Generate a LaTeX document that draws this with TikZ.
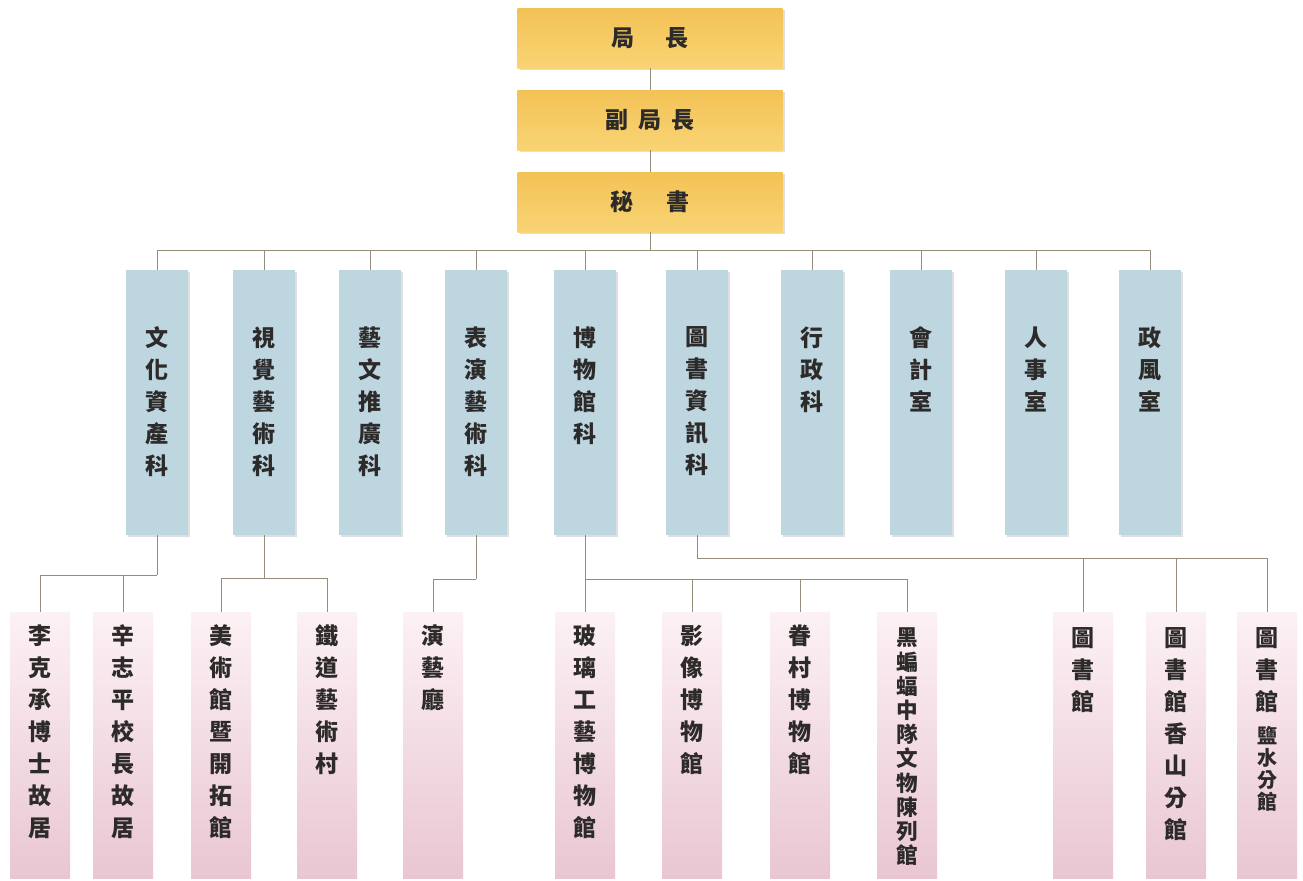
\documentclass[tikz,border=0pt]{standalone}
\usepackage{fontspec}
\newfontfamily\cjk{Noto Sans CJK TC}
\usetikzlibrary{shadows}

\definecolor{chiefgold}{RGB}{243,194,86}
\definecolor{chieflight}{RGB}{249,212,116}
\definecolor{sectblue}{RGB}{189,214,223}
\definecolor{unitpink}{RGB}{233,198,210}
\definecolor{unitpale}{RGB}{252,241,244}
\definecolor{linkgray}{RGB}{150,140,122}
\definecolor{inkgray}{RGB}{45,42,42}

\begin{document}
\begin{tikzpicture}[x=0.5pt,y=-0.5pt]

	\tikzset{chief/.style={
				minimum width=132.5pt, minimum height=30pt, inner sep=0pt,
				top color=chiefgold, bottom color=chieflight,
				drop shadow={shadow xshift=1pt, shadow yshift=-1pt, opacity=0.25},
				font=\cjk\bfseries\fontsize{11.5}{14}\selectfont, text=inkgray}
	}
	\tikzset{sect/.style={
				minimum width=31pt, minimum height=132.5pt, inner sep=0pt,
				fill=sectblue,
				drop shadow={shadow xshift=1.2pt, shadow yshift=-1.2pt, opacity=0.25}}
	}
	\tikzset{unit/.style={
				minimum width=30pt, minimum height=133pt, inner sep=0pt,
				top color=unitpale, bottom color=unitpink}
	}
	\tikzset{vtext/.style={
				anchor=north, align=center, inner sep=0pt,
				font=\cjk\bfseries\fontsize{11.5}{16}\selectfont, text=inkgray}
	}
	\tikzset{link/.style={draw=linkgray, line width=0.5pt}}

	\useasboundingbox (0,0) rectangle (1303,880);

	% top of the bureau
	\node[chief] (head) at (650,38) {局\hspace{1.35em}長};
	\node[chief] (deputy) at (650,120) {副\hspace{0.45em}局\hspace{0.45em}長};
	\node[chief] (secr) at (650,202) {秘\hspace{1.45em}書};

	\draw[link] (head) -- (deputy);
	\draw[link] (deputy) -- (secr);

	% sections
	\node[sect] (s1) at (157,402.5) {};
	\node[vtext] (t1) at ([yshift=-28.5pt]s1.north) {文\\化\\資\\產\\科};

	\node[sect] (s2) at (264,402.5) {};
	\node[vtext] (t2) at ([yshift=-28.5pt]s2.north) {視\\覺\\藝\\術\\科};

	\node[sect] (s3) at (370,402.5) {};
	\node[vtext] (t3) at ([yshift=-28.5pt]s3.north) {藝\\文\\推\\廣\\科};

	\node[sect] (s4) at (476,402.5) {};
	\node[vtext] (t4) at ([yshift=-28.5pt]s4.north) {表\\演\\藝\\術\\科};

	\node[sect] (s5) at (585,402.5) {};
	\node[vtext] (t5) at ([yshift=-28.5pt]s5.north) {博\\物\\館\\科};

	\node[sect] (s6) at (697,402.5) {};
	\node[vtext] (t6) at ([yshift=-28.5pt]s6.north) {圖\\書\\資\\訊\\科};

	\node[sect] (s7) at (812,402.5) {};
	\node[vtext] (t7) at ([yshift=-28.5pt]s7.north) {行\\政\\科};

	\node[sect] (s8) at (921,402.5) {};
	\node[vtext] (t8) at ([yshift=-28.5pt]s8.north) {會\\計\\室};

	\node[sect] (s9) at (1036,402.5) {};
	\node[vtext] (t9) at ([yshift=-28.5pt]s9.north) {人\\事\\室};

	\node[sect] (s10) at (1150,402.5) {};
	\node[vtext] (t10) at ([yshift=-28.5pt]s10.north) {政\\風\\室};

	\coordinate (secbus) at (650,250);
	\draw[link] (secr) -- (secbus);
	\draw[link] (secbus) -| (s1.north);
	\draw[link] (secbus) -| (s2.north);
	\draw[link] (secbus) -| (s3.north);
	\draw[link] (secbus) -| (s4.north);
	\draw[link] (secbus) -| (s5.north);
	\draw[link] (secbus) -| (s6.north);
	\draw[link] (secbus) -| (s7.north);
	\draw[link] (secbus) -| (s8.north);
	\draw[link] (secbus) -| (s9.north);
	\draw[link] (secbus) -| (s10.north);

	% units below the sections
	\node[unit] (u1) at (40,745) {};
	\node[vtext] (v1) at ([yshift=-6.5pt]u1.north) {李\\克\\承\\博\\士\\故\\居};

	\node[unit] (u2) at (123,745) {};
	\node[vtext] (v2) at ([yshift=-6.5pt]u2.north) {辛\\志\\平\\校\\長\\故\\居};

	\node[unit] (u3) at (221,745) {};
	\node[vtext] (v3) at ([yshift=-6.5pt]u3.north) {美\\術\\館\\暨\\開\\拓\\館};

	\node[unit] (u4) at (327,745) {};
	\node[vtext] (v4) at ([yshift=-6.5pt]u4.north) {鐵\\道\\藝\\術\\村};

	\node[unit] (u5) at (433,745) {};
	\node[vtext] (v5) at ([yshift=-6.5pt]u5.north) {演\\藝\\廳};

	\node[unit] (u6) at (585,745) {};
	\node[vtext] (v6) at ([yshift=-6.5pt]u6.north) {玻\\璃\\工\\藝\\博\\物\\館};

	\node[unit] (u7) at (692,745) {};
	\node[vtext] (v7) at ([yshift=-6.5pt]u7.north) {影\\像\\博\\物\\館};

	\node[unit] (u8) at (800,745) {};
	\node[vtext] (v8) at ([yshift=-6.5pt]u8.north) {眷\\村\\博\\物\\館};

	\node[unit] (u9) at (907,745) {};
	\node[vtext, font=\cjk\bfseries\fontsize{10.8}{12.1}\selectfont] (v9)
		at ([yshift=-8pt]u9.north) {黑\\蝙\\蝠\\中\\隊\\文\\物\\陳\\列\\館};

	\node[unit] (u10) at (1083,745) {};
	\node[vtext] (v10) at ([yshift=-8pt]u10.north) {圖\\書\\館};

	\node[unit] (u11) at (1176,745) {};
	\node[vtext] (v11) at ([yshift=-8pt]u11.north) {圖\\書\\館\\香\\山\\分\\館};

	\node[unit] (u12) at (1267,745) {};
	\node[vtext] (v12) at ([yshift=-8pt]u12.north) {圖\\書\\館};
	\node[vtext, font=\cjk\bfseries\fontsize{10}{11}\selectfont] (v12b)
		at ([yshift=-6pt]v12.south) {鹽\\水\\分\\館};

	\coordinate (s1bus) at (157,575);
	\draw[link] (s1) -- (s1bus);
	\draw[link] (s1bus) -| (u1.north);
	\draw[link] (s1bus) -| (u2.north);

	\coordinate (s2bus) at (264,578);
	\draw[link] (s2) -- (s2bus);
	\draw[link] (s2bus) -| (u3.north);
	\draw[link] (s2bus) -| (u4.north);

	\coordinate (s4bus) at (476,579);
	\draw[link] (s4) -- (s4bus);
	\draw[link] (s4bus) -| (u5.north);

	\coordinate (s5bus) at (585,579);
	\draw[link] (s5) -- (u6);
	\draw[link] (s5bus) -| (u7.north);
	\draw[link] (s5bus) -| (u8.north);
	\draw[link] (s5bus) -| (u9.north);

	\coordinate (s6bus) at (697,558);
	\draw[link] (s6) -- (s6bus);
	\draw[link] (s6bus) -| (u10.north);
	\draw[link] (s6bus) -| (u11.north);
	\draw[link] (s6bus) -| (u12.north);

\end{tikzpicture}
\end{document}
